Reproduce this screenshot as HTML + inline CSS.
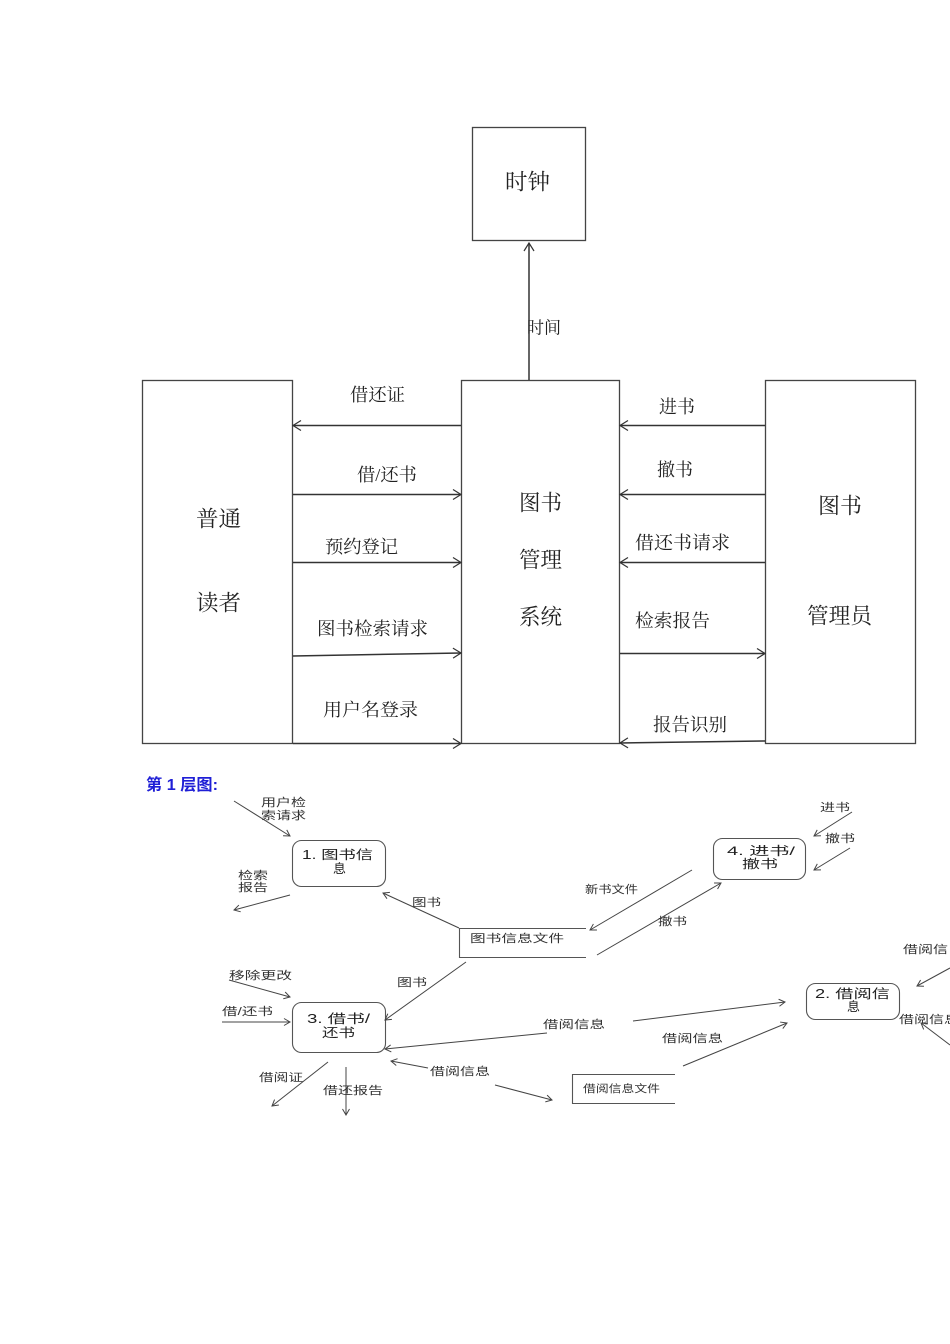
<!DOCTYPE html>
<html>
<head>
<meta charset="utf-8">
<style>
html,body{margin:0;padding:0;background:#fff;}
body{width:950px;height:1344px;overflow:hidden;}
svg{display:block;}
.t{font-family:"Liberation Serif","Noto Serif CJK SC",serif;fill:#222;}
.s{font-family:"Liberation Sans","Noto Sans CJK SC",sans-serif;fill:#333;}
</style>
</head>
<body>
<svg width="950" height="1344" viewBox="0 0 950 1344" xmlns="http://www.w3.org/2000/svg">
<defs>
<marker id="a" markerWidth="12" markerHeight="12" refX="9" refY="6" orient="auto" markerUnits="userSpaceOnUse">
<path d="M1,1 L9,6 L1,11" fill="none" stroke="#333" stroke-width="1.2"/>
</marker>
<marker id="b" markerWidth="10" markerHeight="10" refX="7" refY="5" orient="auto" markerUnits="userSpaceOnUse">
<path d="M1,1.5 L7,5 L1,8.5" fill="none" stroke="#444" stroke-width="1"/>
</marker>
</defs>

<!-- ===== Top context diagram ===== -->
<g fill="none" stroke="#444" stroke-width="1.3">
<rect x="472.5" y="127.5" width="113" height="113"/>
<rect x="142.5" y="380.5" width="150" height="363"/>
<rect x="461.5" y="380.5" width="158" height="363"/>
<rect x="765.5" y="380.5" width="150" height="363"/>
</g>
<g stroke="#333" stroke-width="1.5" fill="none">
<line x1="529" y1="380" x2="529" y2="243" marker-end="url(#a)"/>
<line x1="461" y1="425.5" x2="293" y2="425.5" marker-end="url(#a)"/>
<line x1="293" y1="494.5" x2="461" y2="494.5" marker-end="url(#a)"/>
<line x1="293" y1="562.5" x2="461" y2="562.5" marker-end="url(#a)"/>
<line x1="293" y1="656" x2="461" y2="653" marker-end="url(#a)"/>
<line x1="293" y1="743.5" x2="461" y2="743.5" marker-end="url(#a)"/>
<line x1="765" y1="425.5" x2="620" y2="425.5" marker-end="url(#a)"/>
<line x1="765" y1="494.5" x2="620" y2="494.5" marker-end="url(#a)"/>
<line x1="765" y1="562.5" x2="620" y2="562.5" marker-end="url(#a)"/>
<line x1="620" y1="653.5" x2="765" y2="653.5" marker-end="url(#a)"/>
<line x1="765" y1="741" x2="620" y2="743" marker-end="url(#a)"/>
</g>

<g class="t" dominant-baseline="central">
<text x="505" y="182" font-size="22" textLength="45" lengthAdjust="spacingAndGlyphs">时钟</text>
<text x="527" y="328" font-size="17" textLength="34" lengthAdjust="spacingAndGlyphs">时间</text>

<text x="196" y="519" font-size="22" textLength="45" lengthAdjust="spacingAndGlyphs">普通</text>
<text x="196" y="603" font-size="22" textLength="45" lengthAdjust="spacingAndGlyphs">读者</text>

<text x="519" y="503" font-size="22" textLength="43" lengthAdjust="spacingAndGlyphs">图书</text>
<text x="519" y="560" font-size="22" textLength="43" lengthAdjust="spacingAndGlyphs">管理</text>
<text x="519" y="617" font-size="22" textLength="43" lengthAdjust="spacingAndGlyphs">系统</text>

<text x="818" y="506" font-size="22" textLength="44" lengthAdjust="spacingAndGlyphs">图书</text>
<text x="807" y="616" font-size="22" textLength="65" lengthAdjust="spacingAndGlyphs">管理员</text>

<text x="350" y="395" font-size="18" textLength="55" lengthAdjust="spacingAndGlyphs">借还证</text>
<text x="357" y="475" font-size="18" textLength="60" lengthAdjust="spacingAndGlyphs">借/还书</text>
<text x="325" y="547" font-size="18" textLength="73" lengthAdjust="spacingAndGlyphs">预约登记</text>
<text x="317" y="629" font-size="18" textLength="111" lengthAdjust="spacingAndGlyphs">图书检索请求</text>
<text x="323" y="710" font-size="18" textLength="95" lengthAdjust="spacingAndGlyphs">用户名登录</text>

<text x="659" y="407" font-size="18" textLength="36" lengthAdjust="spacingAndGlyphs">进书</text>
<text x="657" y="470" font-size="18" textLength="36" lengthAdjust="spacingAndGlyphs">撤书</text>
<text x="635" y="543" font-size="18" textLength="95" lengthAdjust="spacingAndGlyphs">借还书请求</text>
<text x="635" y="621" font-size="18" textLength="75" lengthAdjust="spacingAndGlyphs">检索报告</text>
<text x="653" y="725" font-size="18" textLength="74" lengthAdjust="spacingAndGlyphs">报告识别</text>
</g>

<!-- ===== Layer 1 diagram ===== -->
<text x="146" y="790" font-family="Liberation Sans,'Noto Sans CJK SC',sans-serif" font-weight="bold" font-size="16" fill="#1f1fd6" textLength="72" lengthAdjust="spacingAndGlyphs">第 1 层图:</text>

<g fill="none" stroke="#555" stroke-width="1.1">
<rect x="292.5" y="840.5" width="93" height="46" rx="9"/>
<rect x="713.5" y="838.5" width="92" height="41" rx="9"/>
<rect x="292.5" y="1002.5" width="93" height="50" rx="9"/>
<rect x="806.5" y="983.5" width="93" height="36" rx="9"/>
<path d="M586,928.5 H459.5 V957.5 H586"/>
<path d="M675,1074.5 H572.5 V1103.5 H675"/>
</g>

<g stroke="#444" stroke-width="1" fill="none">
<line x1="234" y1="801" x2="290" y2="836" marker-end="url(#b)"/>
<line x1="290" y1="895" x2="234" y2="910" marker-end="url(#b)"/>
<line x1="459" y1="928" x2="383" y2="893" marker-end="url(#b)"/>
<line x1="852" y1="812" x2="814" y2="836" marker-end="url(#b)"/>
<line x1="850" y1="848" x2="814" y2="870" marker-end="url(#b)"/>
<line x1="692" y1="870" x2="590" y2="930" marker-end="url(#b)"/>
<line x1="597" y1="955" x2="721" y2="883" marker-end="url(#b)"/>

<line x1="229" y1="980" x2="290" y2="997" marker-end="url(#b)"/>
<line x1="222" y1="1022" x2="290" y2="1022" marker-end="url(#b)"/>
<line x1="466" y1="962" x2="385" y2="1020" marker-end="url(#b)"/>
<line x1="547" y1="1033" x2="385" y2="1049" marker-end="url(#b)"/>
<line x1="633" y1="1021" x2="785" y2="1002" marker-end="url(#b)"/>
<line x1="428" y1="1068" x2="391" y2="1061" marker-end="url(#b)"/>
<line x1="495" y1="1085" x2="552" y2="1100" marker-end="url(#b)"/>
<line x1="328" y1="1062" x2="272" y2="1106" marker-end="url(#b)"/>
<line x1="346" y1="1067" x2="346" y2="1115" marker-end="url(#b)"/>
<line x1="683" y1="1066" x2="787" y2="1023" marker-end="url(#b)"/>
<line x1="950" y1="968" x2="917" y2="986" marker-end="url(#b)"/>
<line x1="950" y1="1045" x2="921" y2="1023" marker-end="url(#b)"/>
</g>

<g class="s" dominant-baseline="central">
<text x="261" y="803" font-size="11" textLength="45" lengthAdjust="spacingAndGlyphs">用户检</text>
<text x="261" y="816" font-size="11" textLength="45" lengthAdjust="spacingAndGlyphs">索请求</text>
<text x="238" y="876" font-size="11" textLength="30" lengthAdjust="spacingAndGlyphs">检索</text>
<text x="238" y="888" font-size="11" textLength="30" lengthAdjust="spacingAndGlyphs">报告</text>
<text x="302" y="855" font-size="12.5" fill="#222" textLength="71" lengthAdjust="spacingAndGlyphs">1. 图书信</text>
<text x="333" y="869" font-size="12.5" fill="#222" textLength="13" lengthAdjust="spacingAndGlyphs">息</text>
<text x="412" y="903" font-size="11" textLength="29" lengthAdjust="spacingAndGlyphs">图书</text>
<text x="470" y="939" font-size="11" textLength="94" lengthAdjust="spacingAndGlyphs">图书信息文件</text>
<text x="585" y="890" font-size="11" textLength="53" lengthAdjust="spacingAndGlyphs">新书文件</text>
<text x="658" y="922" font-size="11" textLength="29" lengthAdjust="spacingAndGlyphs">撤书</text>
<text x="820" y="808" font-size="11" textLength="30" lengthAdjust="spacingAndGlyphs">进书</text>
<text x="825" y="839" font-size="11" textLength="30" lengthAdjust="spacingAndGlyphs">撤书</text>
<text x="727" y="851" font-size="12" fill="#222" textLength="68" lengthAdjust="spacingAndGlyphs">4. 进书/</text>
<text x="742" y="864" font-size="12" fill="#222" textLength="36" lengthAdjust="spacingAndGlyphs">撤书</text>

<text x="229" y="976" font-size="11" textLength="63" lengthAdjust="spacingAndGlyphs">移除更改</text>
<text x="222" y="1012" font-size="11" textLength="51" lengthAdjust="spacingAndGlyphs">借/还书</text>
<text x="307" y="1019" font-size="12.5" fill="#222" textLength="63" lengthAdjust="spacingAndGlyphs">3. 借书/</text>
<text x="322" y="1033" font-size="12.5" fill="#222" textLength="33" lengthAdjust="spacingAndGlyphs">还书</text>
<text x="397" y="983" font-size="11" textLength="30" lengthAdjust="spacingAndGlyphs">图书</text>
<text x="543" y="1025" font-size="11" textLength="62" lengthAdjust="spacingAndGlyphs">借阅信息</text>
<text x="430" y="1072" font-size="11" textLength="60" lengthAdjust="spacingAndGlyphs">借阅信息</text>
<text x="259" y="1078" font-size="11" textLength="44" lengthAdjust="spacingAndGlyphs">借阅证</text>
<text x="323" y="1091" font-size="11" textLength="60" lengthAdjust="spacingAndGlyphs">借还报告</text>
<text x="583" y="1089" font-size="10.5" textLength="77" lengthAdjust="spacingAndGlyphs">借阅信息文件</text>
<text x="662" y="1039" font-size="11" textLength="61" lengthAdjust="spacingAndGlyphs">借阅信息</text>
<text x="815" y="994" font-size="12.5" fill="#222" textLength="75" lengthAdjust="spacingAndGlyphs">2. 借阅信</text>
<text x="847" y="1007" font-size="12.5" fill="#222" textLength="13" lengthAdjust="spacingAndGlyphs">息</text>
<text x="903" y="950" font-size="11" textLength="45" lengthAdjust="spacingAndGlyphs">借阅信</text>
<text x="899" y="1020" font-size="11" textLength="60" lengthAdjust="spacingAndGlyphs">借阅信息</text>
</g>
</svg>
</body>
</html>
